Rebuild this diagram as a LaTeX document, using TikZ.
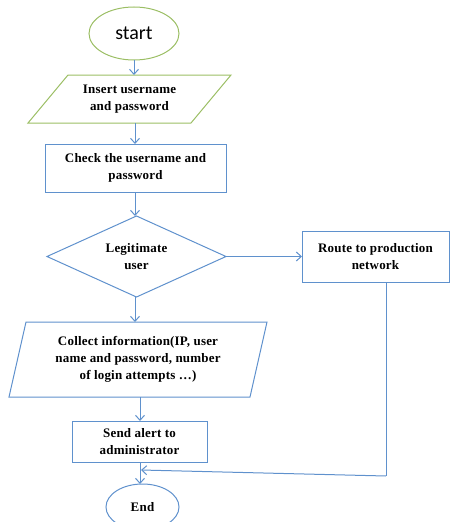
\documentclass[tikz,border=0pt]{standalone}
\usepackage{fontspec}
\setmainfont{Liberation Serif}
\newfontfamily\calib{Carlito}
\newfontfamily\boxfont[LetterSpace=1.5]{Liberation Serif}
\usetikzlibrary{shapes.geometric,arrows.meta}
\definecolor{offgreen}{RGB}{155,190,100}
\definecolor{offblue}{RGB}{95,145,205}
\tikzset{
  every node/.style={inner sep=0pt,outer sep=0pt},
  boxtext/.style={font=\boxfont\fontsize{13}{17}\selectfont\bfseries,align=center},
  rectbox/.style={draw=offblue,line width=1pt,rectangle,boxtext},
  flowarrow/.style={draw=offblue,line width=1pt,-{Straight Barb[length=5pt,width=9pt,line width=1pt]}},
  flowline/.style={draw=offblue,line width=1pt}
}
\begin{document}
\begin{tikzpicture}[x=1pt,y=-1pt]
\useasboundingbox (0,0) rectangle (451,522);
% start
\node[ellipse,draw=offgreen,line width=1pt,minimum width=90,minimum height=53,font=\calib\fontsize{20}{24}\selectfont] (start) at (134,33.5) {start};
% input parallelogram
\node[boxtext,minimum width=163,minimum height=48] (inp) at (129.5,99) {Insert username\\and password};
\draw[offgreen,line width=1pt] ([xshift=20]inp.north west) -- ([xshift=20]inp.north east) -- ([xshift=-20]inp.south east) -- ([xshift=-20]inp.south west) -- cycle;
% check
\node[rectbox,minimum width=181,minimum height=48] (check) at (135.5,168) {Check the username and\\password};
% diamond
\node[diamond,draw=offblue,line width=1pt,minimum width=179,minimum height=81,
      label={[boxtext]center:{Legitimate\\user}}] (legit) at (136.5,256.5) {};
% route
\node[rectbox,minimum width=147,minimum height=51] (route) at (375.5,256.5) {Route to production\\network};
% collect parallelogram
\node[boxtext,minimum width=241,minimum height=75] (coll) at (138,359.5) {Collect information(IP, user\\name and password, number\\of login attempts \ldots)};
\draw[offblue,line width=1pt] ([xshift=8.5]coll.north west) -- ([xshift=8.5]coll.north east) -- ([xshift=-8.5]coll.south east) -- ([xshift=-8.5]coll.south west) -- cycle;
% send
\node[rectbox,minimum width=135,minimum height=41] (send) at (139.5,441.5) {Send alert to\\administrator};
% end
\node[ellipse,draw=offblue,line width=1pt,minimum width=73,minimum height=46,boxtext] (end) at (142.5,507) {End};
% connectors
\draw[flowarrow] (start.south) -- (start.south |- inp.north);
\draw[flowarrow] (135,123) -- (135,144);
\draw[flowarrow] (check.south -| 135,0) -- (legit.north -| 135,0);
\draw[flowarrow] (legit.east) -- (route.west);
\draw[flowarrow] (legit.south -| 135,0) -- (coll.north -| 135,0);
\draw[flowarrow] (coll.south -| 140,0) -- (send.north -| 140,0);
\draw[flowarrow] (send.south -| 140,0) -- (end.north -| 140,0);
\coordinate (corner) at (386,476);
\coordinate (meet) at (141,470);
\draw[flowline] (route.south -| corner) -- (corner);
\draw[flowarrow] (corner) -- (meet);
\end{tikzpicture}
\end{document}
